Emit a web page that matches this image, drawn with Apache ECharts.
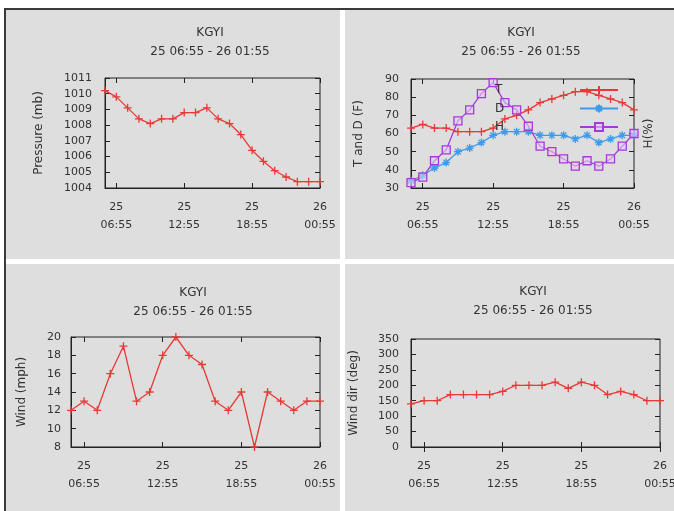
<!DOCTYPE html>
<html><head><meta charset="utf-8">
<script src="https://cdn.jsdelivr.net/npm/echarts/dist/echarts.min.js"></script>
<style>html,body{margin:0;padding:0;background:#fff}#c{width:674px;height:511px}</style>
</head><body><div id="c"></div>
<script>
const times = ['25 05:55','25 06:55','25 07:55','25 08:55','25 09:55','25 10:55','25 11:55','25 12:55','25 13:55','25 14:55',
  '25 15:55','25 16:55','25 17:55','25 18:55','25 19:55','25 20:55','25 21:55','25 22:55','25 23:55','26 00:55'];
const pressure = [1010.2,1009.8,1009.1,1008.4,1008.1,1008.4,1008.4,1008.8,1008.8,1009.1,1008.4,1008.1,1007.4,1006.4,1005.7,1005.1,1004.7,1004.4,1004.4,1004.4];
const tempF = [63,65,63,63,61,61,61,63,68,70,73,77,79,81,83,83,81,79,77,73];
const dewF = [34,37,41,44,50,52,55,59,61,61,61,59,59,59,57,59,55,57,59,59];
const humid = [33,36,45,51,67,73,82,88,77,73,64,53,50,46,42,45,42,46,53,60];
const wind = [12,13,12,16,19,13,14,18,20,18,17,13,12,14,8,14,13,12,13,13];
const windDir = [140,150,150,170,170,170,170,180,200,200,200,210,190,210,200,170,180,170,150,150];
const stationName = 'KGYI';
const rangeText = '25 06:55 - 26 01:55';

const FONT = 'DejaVu Sans';
const TXT = '#333';
const RED = '#e63a36', BLUE = '#3d9be9', PURPLE = '#a53ad9';
const PLUS = 'path://M0,5L10,5M5,0L5,10';
const STAR = 'path://M0,5L10,5M5,0L5,10M1.5,1.5L8.5,8.5M1.5,8.5L8.5,1.5';
const SQUARE = 'path://M0,0L10,0L10,10L0,10Z';

const panels = [
  {grid:{left:105, top:78, width:215, height:110}, min:1004, max:1011, interval:1, name:'Pressure (mb)', nameGap:60, labelMargin:13, tx:210, ty:27},
  {grid:{left:411, top:79, width:223, height:109}, min:30, max:90, interval:10, name:'T and D (F)', nameGap:46, labelMargin:12, tx:521, ty:27, rightName:'H(%)'},
  {grid:{left:71, top:337, width:249, height:110}, min:8, max:20, interval:2, name:'Wind (mph)', nameGap:43, labelMargin:10, tx:193, ty:287},
  {grid:{left:411, top:339, width:249, height:108}, min:0, max:350, interval:50, name:'Wind dir (deg)', nameGap:51, labelMargin:12, tx:533, ty:286}
];

const tickFn = (i) => (i - 1) % 6 === 0;
const grids = [], xAxes = [], yAxes = [], titles = [];
panels.forEach((p, i) => {
  grids.push(Object.assign({show:true, borderColor:'#222', borderWidth:1, backgroundColor:'transparent', containLabel:false, outerBoundsMode:'none'}, p.grid));
  titles.push({text: stationName, subtext: rangeText, left: p.tx, top: p.ty, textAlign:'center', padding:0, itemGap:7,
    textStyle:{fontFamily:FONT, fontSize:12, fontWeight:'normal', color:TXT},
    subtextStyle:{fontFamily:FONT, fontSize:12, color:TXT}});
  xAxes.push({type:'category', gridIndex:i, data:times, boundaryGap:false, position:'bottom',
    axisLine:{show:true, lineStyle:{color:'#222'}},
    axisTick:{show:true, inside:true, length:5, interval:tickFn, lineStyle:{color:'#222'}},
    axisLabel:{interval:tickFn, margin:10, fontFamily:FONT, fontSize:11, color:TXT, lineHeight:18,
      formatter:(v) => v.replace(' ', '\n')},
    splitLine:{show:false}});
  xAxes.push({type:'category', gridIndex:i, data:times, boundaryGap:false, position:'top',
    axisLine:{show:false}, axisLabel:{show:false},
    axisTick:{show:true, inside:true, length:5, interval:tickFn, lineStyle:{color:'#222'}}, splitLine:{show:false}});
  yAxes.push({type:'value', gridIndex:i, min:p.min, max:p.max, interval:p.interval, position:'left',
    name:p.name, nameLocation:'middle', nameGap:p.nameGap, nameTextStyle:{fontFamily:FONT, fontSize:12, color:TXT},
    axisLine:{show:true, lineStyle:{color:'#222'}},
    axisTick:{show:true, inside:true, length:5, lineStyle:{color:'#222'}},
    axisLabel:{margin:p.labelMargin, fontFamily:FONT, fontSize:11, color:TXT, formatter:(v) => String(v)},
    splitLine:{show:false}});
  yAxes.push({type:'value', gridIndex:i, min:p.min, max:p.max, interval:p.interval, position:'right',
    name:p.rightName || '', nameLocation:'middle', nameGap:9, nameTextStyle:{fontFamily:FONT, fontSize:12, color:TXT},
    axisLine:{show:false}, axisLabel:{show:false},
    axisTick:{show:true, inside:true, length:5, lineStyle:{color:'#222'}}, splitLine:{show:false}});
});

function lineSeries(name, data, panel, color, symbol, size, fill) {
  return {type:'line', name, data, xAxisIndex:panel*2, yAxisIndex:panel*2,
    symbol, symbolSize:size, showAllSymbol:true, silent:true,
    lineStyle:{color, width:1.3},
    itemStyle:{color: fill || color, borderColor:color, borderWidth:1.3},
    emphasis:{disabled:true}};
}

const option = {
  animation:false,
  backgroundColor:'#fff',
  graphic:[
    {type:'rect', shape:{x:5, y:8, width:335, height:251}, style:{fill:'#dedede'}, silent:true, z:-10},
    {type:'rect', shape:{x:345, y:8, width:329, height:251}, style:{fill:'#dedede'}, silent:true, z:-10},
    {type:'rect', shape:{x:5, y:264, width:335, height:247}, style:{fill:'#dedede'}, silent:true, z:-10},
    {type:'rect', shape:{x:345, y:264, width:329, height:247}, style:{fill:'#dedede'}, silent:true, z:-10},
    {type:'rect', shape:{x:4, y:8, width:670, height:2}, style:{fill:'#3a3a3a'}, silent:true, z:-9},
    {type:'rect', shape:{x:4, y:8, width:2, height:503}, style:{fill:'#3a3a3a'}, silent:true, z:-9}
  ],
  title: titles,
  grid: grids,
  xAxis: xAxes,
  yAxis: yAxes,
  legend:{show:true, data:['T','D','H'], orient:'vertical', left:495, top:83, padding:0, itemWidth:38, itemHeight:10, itemGap:4.5,
    align:'right', selectedMode:false,
    formatter:(n) => '{a|' + n + '}',
    textStyle:{fontFamily:FONT, fontSize:12, color:TXT, rich:{a:{width:80, height:14, lineHeight:14, align:'left', fontFamily:FONT, fontSize:12, color:TXT}}}},
  series:[
    lineSeries('P', pressure, 0, RED, PLUS, 8),
    lineSeries('T', tempF, 1, RED, PLUS, 8),
    lineSeries('D', dewF, 1, BLUE, STAR, 8),
    lineSeries('H', humid, 1, PURPLE, SQUARE, 8, 'rgba(225,205,240,0.6)'),
    lineSeries('W', wind, 2, RED, PLUS, 8),
    lineSeries('WD', windDir, 3, RED, PLUS, 8)
  ]
};
const chart = echarts.init(document.getElementById('c'), null, {renderer:'canvas'});
chart.setOption(option);
</script>
</body></html>
